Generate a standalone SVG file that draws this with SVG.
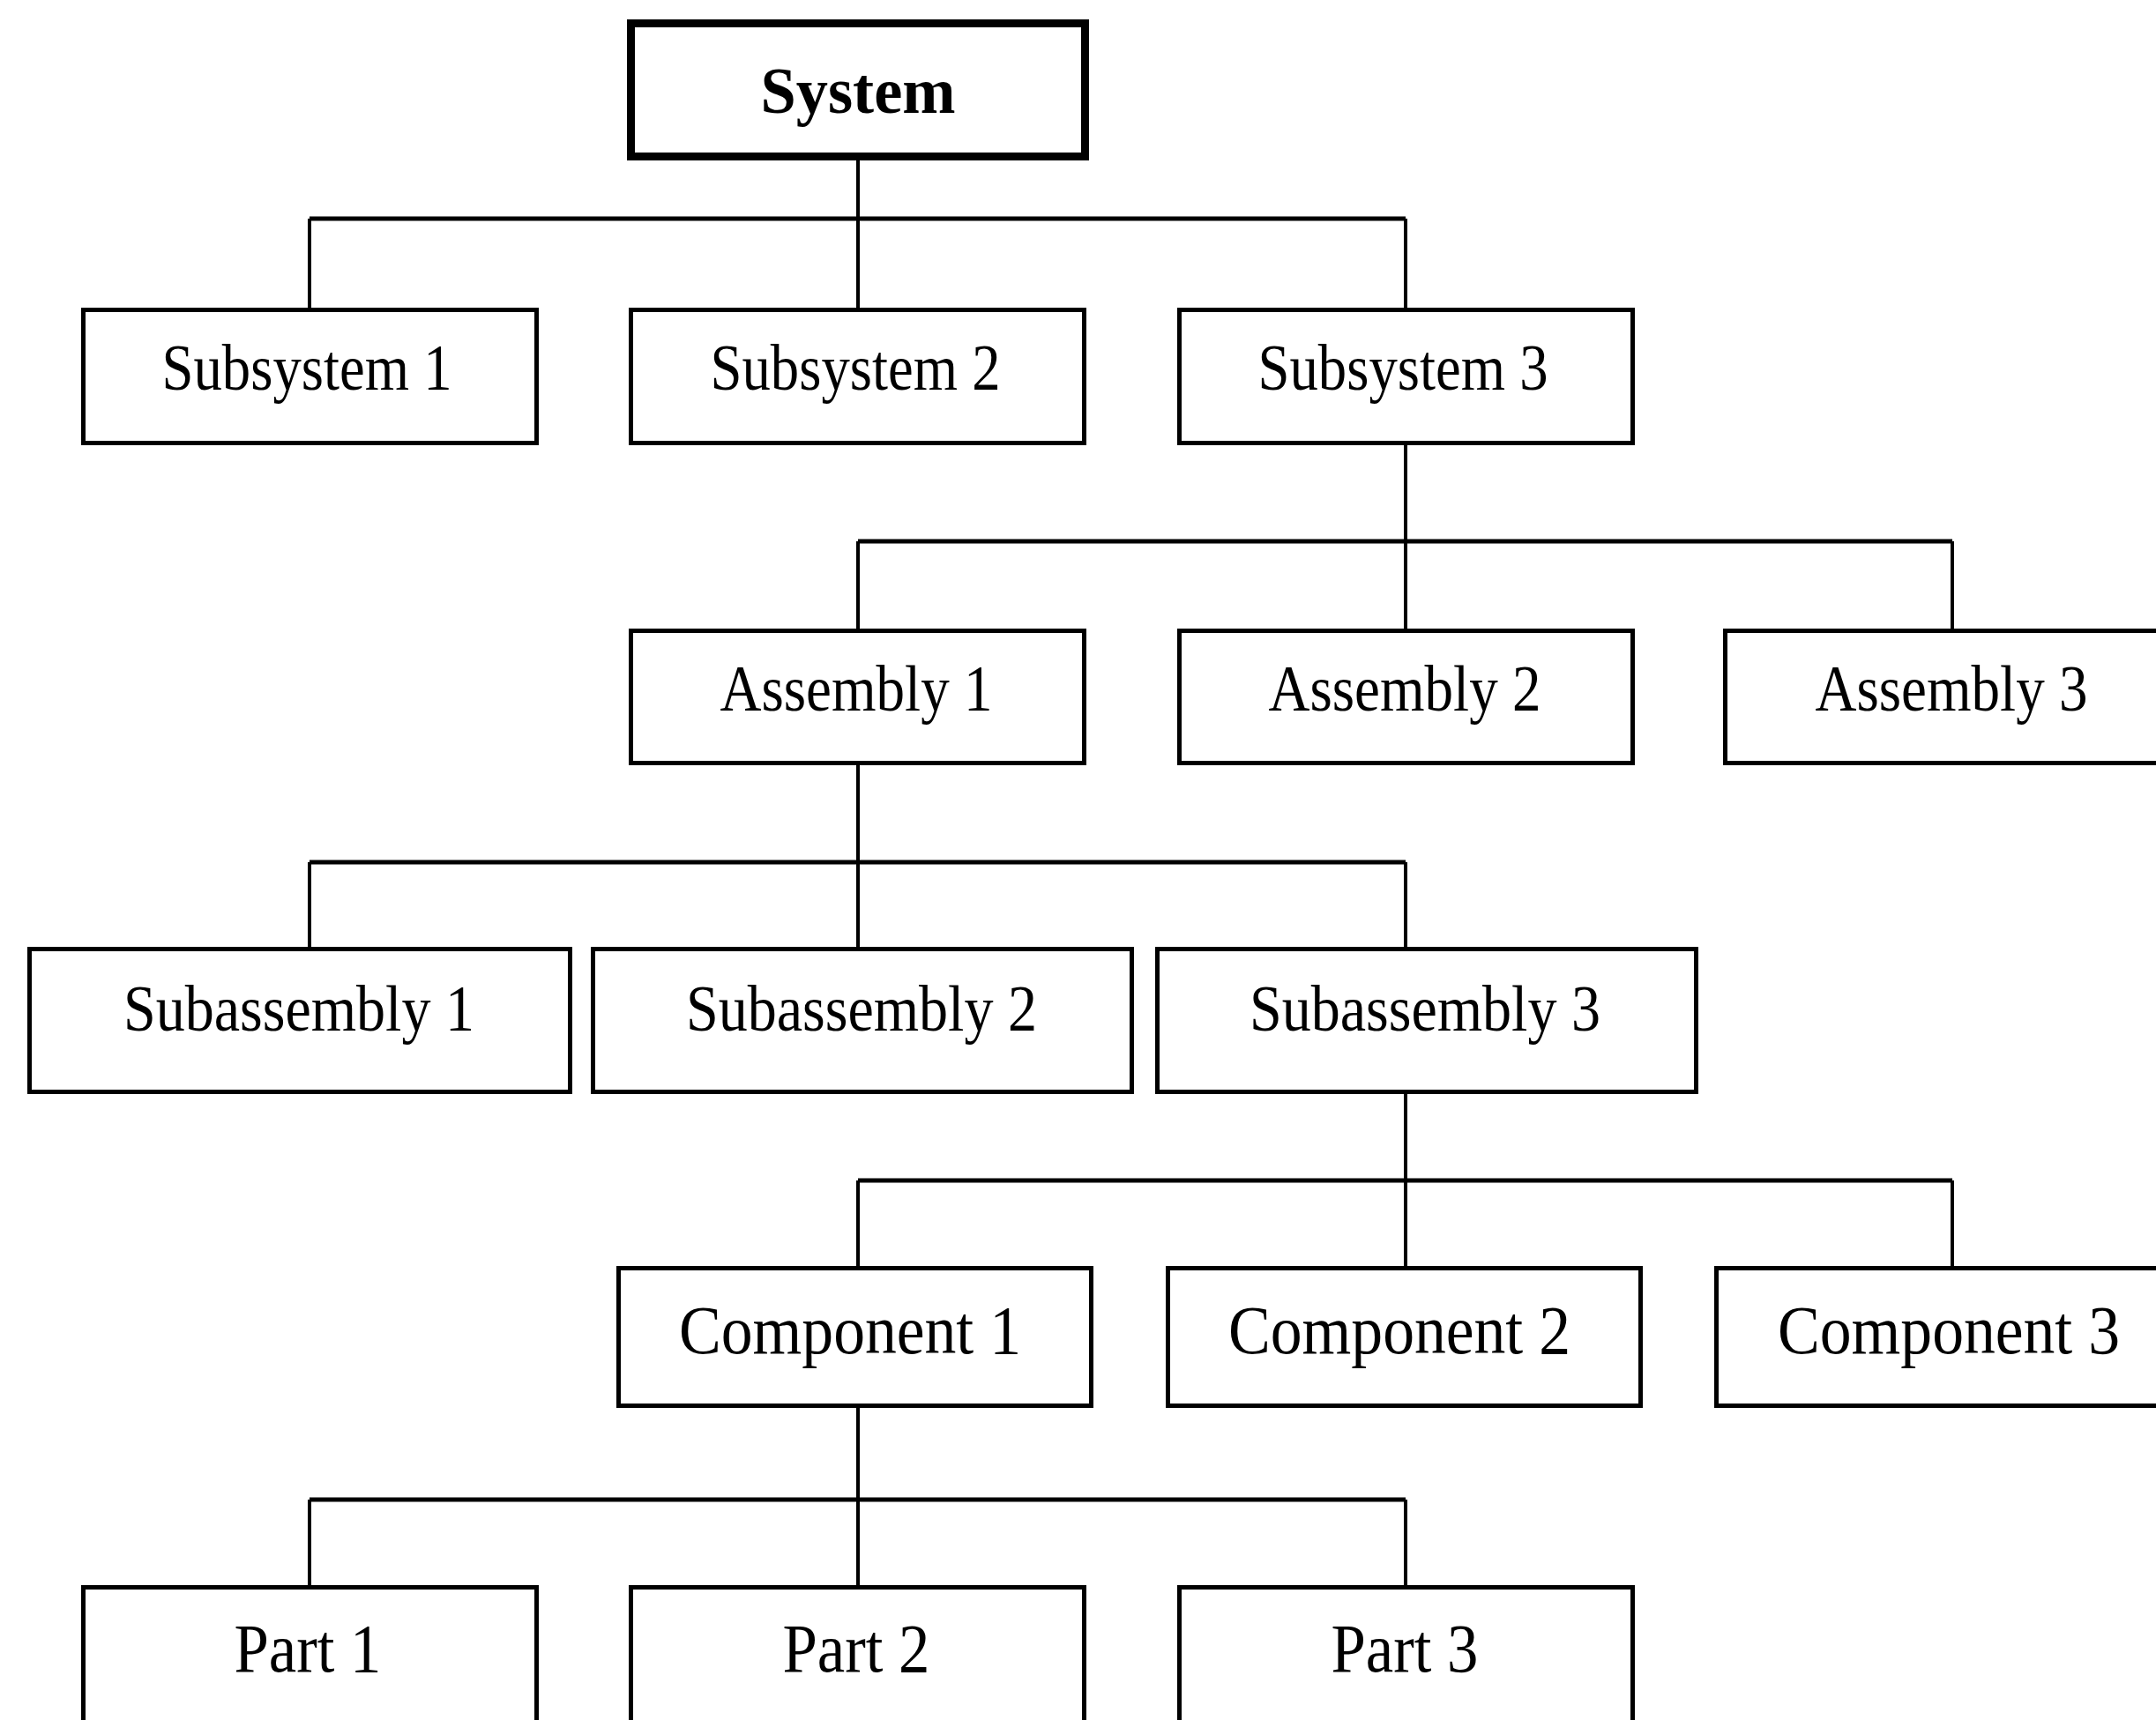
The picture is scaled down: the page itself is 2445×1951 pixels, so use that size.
<svg xmlns="http://www.w3.org/2000/svg" width="2445" height="1951" viewBox="0 0 2445 1951">
<style>
.box{fill:#fff;stroke:#000;stroke-width:5}
.top{fill:#fff;stroke:#000;stroke-width:9}
.lbl{font-family:"Liberation Serif","Times New Roman",serif;font-size:74px;fill:#000;text-anchor:middle}
.big{font-size:79px}
.bold{font-weight:bold}
.h{stroke:#000;stroke-width:5;fill:none}
.v{stroke:#000;stroke-width:4;fill:none}
</style>
<rect width="2445" height="1951" fill="#fff"/>
<g id="connectors">
<path class="v" d="M973 182V349M351 248V349M1594 248V349"/>
<path class="h" d="M351 248H1594"/>
<path class="v" d="M1594 505V713M973 614V713M2214 614V713"/>
<path class="h" d="M973 614H2214"/>
<path class="v" d="M973 868V1074M351 978V1074M1594 978V1074"/>
<path class="h" d="M351 978H1594"/>
<path class="v" d="M1594 1241V1436M973 1339V1436M2214 1339V1436"/>
<path class="h" d="M973 1339H2214"/>
<path class="v" d="M973 1597V1798M351 1701V1798M1594 1701V1798"/>
<path class="h" d="M351 1701H1594"/>
</g>
<g id="system"><rect class="top" x="715.5" y="26.5" width="515" height="151"/><text class="lbl bold" x="973" y="128" textLength="221" lengthAdjust="spacingAndGlyphs">System</text></g>
<g id="subsystem1"><rect class="box" x="94.5" y="351.5" width="514" height="151"/><text class="lbl" x="348" y="442" textLength="329" lengthAdjust="spacingAndGlyphs">Subsystem 1</text></g>
<g id="subsystem2"><rect class="box" x="715.5" y="351.5" width="514" height="151"/><text class="lbl" x="970" y="442" textLength="329" lengthAdjust="spacingAndGlyphs">Subsystem 2</text></g>
<g id="subsystem3"><rect class="box" x="1337.5" y="351.5" width="514" height="151"/><text class="lbl" x="1591" y="442" textLength="329" lengthAdjust="spacingAndGlyphs">Subsystem 3</text></g>
<g id="assembly1"><rect class="box" x="715.5" y="715.5" width="514" height="150"/><text class="lbl" x="971" y="806" textLength="309" lengthAdjust="spacingAndGlyphs">Assembly 1</text></g>
<g id="assembly2"><rect class="box" x="1337.5" y="715.5" width="514" height="150"/><text class="lbl" x="1593" y="806" textLength="309" lengthAdjust="spacingAndGlyphs">Assembly 2</text></g>
<g id="assembly3"><rect class="box" x="1956.5" y="715.5" width="520" height="150"/><text class="lbl" x="2213" y="806" textLength="309" lengthAdjust="spacingAndGlyphs">Assembly 3</text></g>
<g id="subassembly1"><rect class="box" x="33.5" y="1076.5" width="613" height="162"/><text class="lbl" x="339" y="1169" textLength="398" lengthAdjust="spacingAndGlyphs">Subassembly 1</text></g>
<g id="subassembly2"><rect class="box" x="672.5" y="1076.5" width="611" height="162"/><text class="lbl" x="977" y="1169" textLength="398" lengthAdjust="spacingAndGlyphs">Subassembly 2</text></g>
<g id="subassembly3"><rect class="box" x="1312.5" y="1076.5" width="611" height="162"/><text class="lbl" x="1616" y="1169" textLength="398" lengthAdjust="spacingAndGlyphs">Subassembly 3</text></g>
<g id="component1"><rect class="box" x="701.5" y="1438.5" width="536" height="156"/><text class="lbl big" x="964" y="1535" textLength="388" lengthAdjust="spacingAndGlyphs">Component 1</text></g>
<g id="component2"><rect class="box" x="1324.5" y="1438.5" width="536" height="156"/><text class="lbl big" x="1587" y="1535" textLength="388" lengthAdjust="spacingAndGlyphs">Component 2</text></g>
<g id="component3"><rect class="box" x="1946.5" y="1438.5" width="536" height="156"/><text class="lbl big" x="2210" y="1535" textLength="388" lengthAdjust="spacingAndGlyphs">Component 3</text></g>
<g id="part1"><rect class="box" x="94.5" y="1800.5" width="514" height="170"/><text class="lbl big" x="349" y="1896" textLength="167" lengthAdjust="spacingAndGlyphs">Part 1</text></g>
<g id="part2"><rect class="box" x="715.5" y="1800.5" width="514" height="170"/><text class="lbl big" x="971" y="1896" textLength="167" lengthAdjust="spacingAndGlyphs">Part 2</text></g>
<g id="part3"><rect class="box" x="1337.5" y="1800.5" width="514" height="170"/><text class="lbl big" x="1593" y="1896" textLength="167" lengthAdjust="spacingAndGlyphs">Part 3</text></g>
</svg>
